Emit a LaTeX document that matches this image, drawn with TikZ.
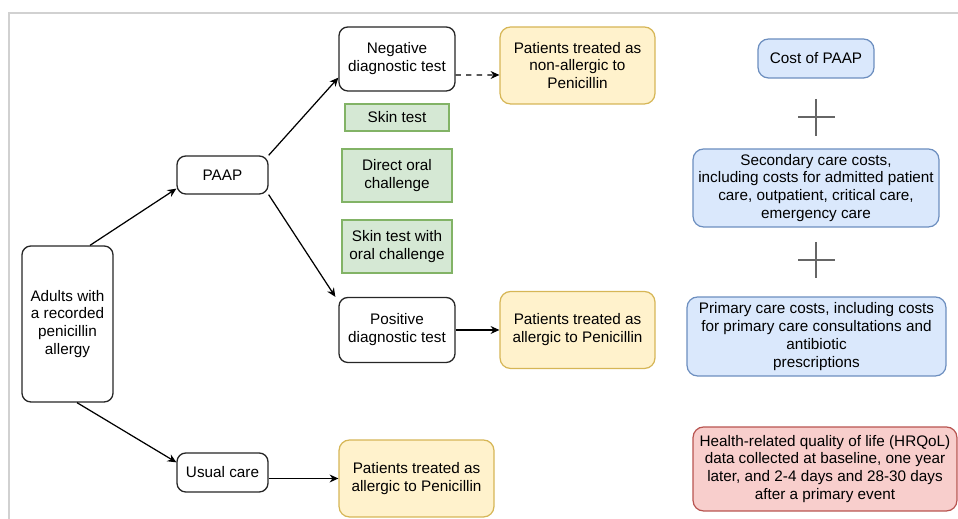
\documentclass[tikz,border=0pt]{standalone}
\usepackage{fontspec}
\setmainfont{Liberation Sans}
\usetikzlibrary{arrows.meta}
\definecolor{yfill}{HTML}{FFF2CC}
\definecolor{ydraw}{HTML}{D6B656}
\definecolor{bfill}{HTML}{DAE8FC}
\definecolor{bdraw}{HTML}{6C8EBF}
\definecolor{gfill}{HTML}{D5E8D4}
\definecolor{gdraw}{HTML}{82B366}
\definecolor{rfill}{HTML}{F8CECC}
\definecolor{rdraw}{HTML}{B85450}
\begin{document}
\begin{tikzpicture}[x=0.02cm,y=-0.02cm,
    every node/.style={font=\fontsize{8.7}{10.2}\selectfont,align=center,inner sep=0pt},
    whitebox/.style={draw=black!85,line width=0.75pt,rounded corners=5pt,fill=white},
    yellowbox/.style={draw=ydraw,line width=0.7pt,rounded corners=6pt,fill=yfill},
    bluebox/.style={draw=bdraw,line width=0.7pt,rounded corners=6pt,fill=bfill},
    redbox/.style={draw=rdraw,line width=0.7pt,rounded corners=6pt,fill=rfill},
    greenbox/.style={draw=gdraw,line width=0.7pt,fill=gfill},
    arr/.style={-{Stealth[length=5pt,width=4.5pt]},line width=0.7pt},
    plus/.style={draw=black!60,line width=0.6pt}]
      \useasboundingbox (0,0) rectangle (958,519);
      \draw[black!18,line width=0.6pt] (9,519) -- (9,13) -- (958,13);
      % left half: pathway
      \node[whitebox,minimum width=1.82cm,minimum height=3.12cm] (adults) at (67.5,324) {Adults with\\a recorded\\penicillin\\allergy};
      \node[whitebox,minimum width=1.82cm,minimum height=0.76cm] (paap) at (222.5,175) {PAAP};
      \node[whitebox,minimum width=1.82cm,minimum height=0.78cm] (usual) at (222.5,472.5) {Usual care};
      \node[whitebox,minimum width=2.32cm,minimum height=1.28cm] (neg) at (397,59) {Negative\\diagnostic test};
      \node[greenbox,minimum width=2.08cm,minimum height=0.54cm] (skin) at (397,117.5) {Skin test};
      \node[greenbox,minimum width=2.2cm,minimum height=1.06cm] (oral) at (397,175.5) {Direct oral\\challenge};
      \node[greenbox,minimum width=2.2cm,minimum height=1.06cm] (skinoral) at (397,246.5) {Skin test with\\oral challenge};
      \node[whitebox,minimum width=2.32cm,minimum height=1.3cm] (pos) at (397,330) {Positive\\diagnostic test};
      \node[yellowbox,minimum width=3.1cm,minimum height=1.54cm] (nonallergic) at (577.5,65.5) {Patients treated as\\non-allergic to\\Penicillin};
      \node[yellowbox,minimum width=3.1cm,minimum height=1.54cm] (allergicpos) at (577.5,330) {Patients treated as\\allergic to Penicillin};
      \node[yellowbox,minimum width=3.1cm,minimum height=1.54cm] (allergicusual) at (416.5,478.5) {Patients treated as\\allergic to Penicillin};
      \draw[arr] ([xshift=0.45cm]adults.north) -- ([yshift=0.12cm]paap.south west);
      \draw[arr] ([xshift=0.19cm]adults.south) -- ([yshift=-0.2cm]usual.north west);
      \draw[arr] (paap.north east) -- ([yshift=0.28cm]neg.south west);
      \draw[arr] (paap.south east) -- ([xshift=-0.06cm]pos.north west);
      \draw[arr,dashed] ([yshift=-0.32cm]neg.east) -- ([yshift=-0.19cm]nonallergic.west);
      \draw[arr] (pos.east) -- (pos.east -| allergicpos.west);
      \draw[arr] (usual.east |- allergicusual.west) -- (allergicusual.west);
      % right half: costs and outcomes
      \node[bluebox,minimum width=2.32cm,minimum height=0.78cm] (cost) at (816,58.5) {Cost of PAAP};
      \node[bluebox,minimum width=4.92cm,minimum height=1.56cm] (secondary) at (816,188) {Secondary care costs,\\including costs for admitted patient\\care, outpatient, critical care,\\emergency care};
      \node[bluebox,minimum width=5.18cm,minimum height=1.58cm] (primary) at (816.5,336.5) {Primary care costs, including costs\\for primary care consultations and\\antibiotic\\prescriptions};
      \node[redbox,minimum width=5.28cm,minimum height=1.68cm] (hrqol) at (825,469) {Health-related quality of life (HRQoL)\\data collected at baseline, one year\\later, and 2-4 days and 28-30 days\\after a primary event};
      \draw[plus] (816,99) -- (816,136) (798,117) -- (835,117);
      \draw[plus] (816,242) -- (816,278) (798,260) -- (835,260);
    \end{tikzpicture}
\end{document}
